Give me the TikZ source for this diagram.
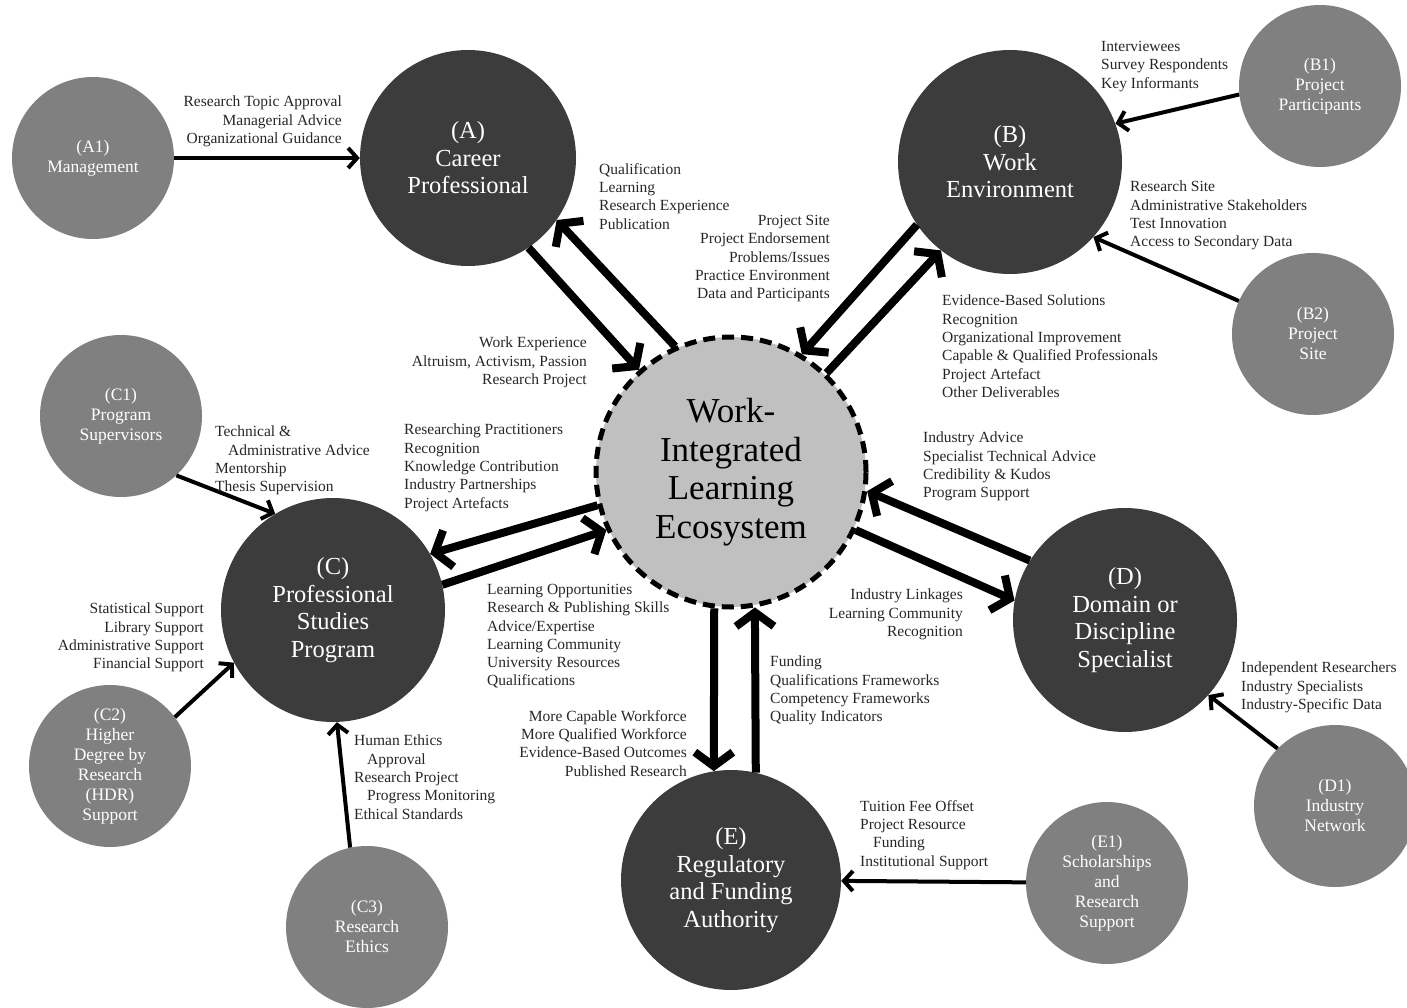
\documentclass[tikz,border=0pt]{standalone}
\usepackage{fontspec}
\setmainfont{Liberation Serif}
\usetikzlibrary{arrows.meta}
\definecolor{grisclair}{HTML}{C0C0C0}
\definecolor{grismoyen}{HTML}{808080}
\definecolor{grisfonce}{HTML}{3C3C3C}

\begin{document}
\begin{tikzpicture}[
       x=1pt, y=-1pt,
       satellite/.style={
         circle,
         fill=grismoyen,
         text=white,
         inner sep=0pt,
         minimum size=162pt,
         align=center,
         font=\fontsize{17.5}{20}\selectfont
       },
       pilier/.style={
         circle,
         fill=grisfonce,
         text=white,
         inner sep=0pt,
         align=center,
         font=\fontsize{24.5}{27.5}\selectfont
       },
       noyau/.style={
         circle,
         fill=grisclair,
         draw=black,
         line width=5pt,
         dash pattern=on 12pt off 7pt,
         inner sep=0pt,
         minimum size=270pt,
         align=center,
         font=\fontsize{35}{38.5}\selectfont
       },
       liste/.style={
         inner sep=0pt,
         text=black!85,
         font=\fontsize{15.5}{18.3}\selectfont
       },
       lien/.style={line width=4pt, -{Straight Barb[length=9pt,width=20pt]}},
       flux/.style={line width=8pt, -{Straight Barb[length=14pt,width=38pt]}}
     ]

       \useasboundingbox (0,0) rectangle (1407,1008);

       % centre
       \node (W) at (731,472) [noyau]{Work-\\Integrated\\Learning\\Ecosystem};

       % poles
       \node (A) at (468,158) [pilier, minimum size=216pt]{(A)\\Career\\Professional};
       \node (B) at (1010,162) [pilier, minimum size=224pt]{(B)\\Work\\Environment};
       \node (C) at (333,610) [pilier, minimum size=224pt]{(C)\\Professional\\Studies\\Program};
       \node (D) at (1125,620) [pilier, minimum size=224pt]{(D)\\Domain or\\Discipline\\Specialist};
       \node (E) at (731,880) [pilier, minimum size=220pt]{(E)\\Regulatory\\and Funding\\Authority};

       % satellites
       \node (A1) at (93,158) [satellite]{(A1)\\Management};
       \node (B1) at (1320,86) [satellite]{(B1)\\Project\\Participants};
       \node (B2) at (1313,334) [satellite]{(B2)\\Project\\Site};
       \node (C1) at (121,416) [satellite]{(C1)\\Program\\Supervisors};
       \node (C2) at (110,766) [satellite]{(C2)\\Higher\\Degree by\\Research\\(HDR)\\Support};
       \node (C3) at (367,927) [satellite]{(C3)\\Research\\Ethics};
       \node (D1) at (1335,806) [satellite]{(D1)\\Industry\\Network};
       \node (E1) at (1107,883) [satellite]{(E1)\\Scholarships\\and\\Research\\Support};

       \draw[flux] (A.-56) -- (W.132);
       \draw[flux] (W.114) -- (A.-35);
       \draw[flux] (B.-146) -- (W.59);
       \draw[flux] (W.46) -- (B.-128);
       \draw[flux] (W.-166) -- (C.30);
       \draw[flux] (C.13) -- (W.-155);
       \draw[flux] (D.148) -- (W.-8);
       \draw[flux] (W.-25) -- (D.170);
       \draw[flux] (W.-97) -- (E.99);
       \draw[flux] (E.77) -- (W.-80);

       \draw[lien] (A1) -- (A);
       \draw[lien] (B1.186) -- (B.20);
       \draw[lien] (B2.156) -- (B.-42);
       \draw[lien] (C1.-47) -- (C.121);
       \draw[lien] (C2.37) -- (C.-152);
       \draw[lien] (C3.102) -- (C.-88);
       \draw[lien] (D1.135) -- (D.-42);
       \draw[lien] (E1) -- (E);

       % textes
       \node (tA1) at (342,96) [liste, anchor=north east, align=right]{Research Topic Approval\\Managerial Advice\\Organizational Guidance};
       \node (tAin) at (599,163) [liste, anchor=north west, align=left]{Qualification\\Learning\\Research Experience\\Publication};
       \node (tWin) at (830,215) [liste, anchor=north east, align=right]{Project Site\\Project Endorsement\\Problems/Issues\\Practice Environment\\Data and Participants};
       \node (tB1) at (1101,41) [liste, anchor=north west, align=left]{Interviewees\\Survey Respondents\\Key Informants};
       \node (tB2) at (1130,181) [liste, anchor=north west, align=left]{Research Site\\Administrative Stakeholders\\Test Innovation\\Access to Secondary Data};
       \node (tBin) at (942,295) [liste, anchor=north west, align=left]{Evidence-Based Solutions\\Recognition\\Organizational Improvement\\Capable \& Qualified Professionals\\Project Artefact\\Other Deliverables};
       \node (tAout) at (587,337) [liste, anchor=north east, align=right]{Work Experience\\Altruism, Activism, Passion\\Research Project};
       \node (tCin) at (404,424) [liste, anchor=north west, align=left]{Researching Practitioners\\Recognition\\Knowledge Contribution\\Industry Partnerships\\Project Artefacts};
       \node (tC1) at (215,426) [liste, anchor=north west, align=left]{Technical \&\\\hspace*{13pt}Administrative Advice\\Mentorship\\Thesis Supervision};
       \node (tDout) at (923,432) [liste, anchor=north west, align=left]{Industry Advice\\Specialist Technical Advice\\Credibility \& Kudos\\Program Support};
       \node (tCout) at (487,584) [liste, anchor=north west, align=left]{Learning Opportunities\\Research \& Publishing Skills\\Advice/Expertise\\Learning Community\\University Resources\\Qualifications};
       \node (tDin) at (963,589) [liste, anchor=north east, align=right]{Industry Linkages\\Learning Community\\Recognition};
       \node (tC2) at (204,603) [liste, anchor=north east, align=right]{Statistical Support\\Library Support\\Administrative Support\\Financial Support};
       \node (tEout) at (770,656) [liste, anchor=north west, align=left]{Funding\\Qualifications Frameworks\\Competency Frameworks\\Quality Indicators};
       \node (tEin) at (687,710) [liste, anchor=north east, align=right]{More Capable Workforce\\More Qualified Workforce\\Evidence-Based Outcomes\\Published Research};
       \node (tC3) at (354,735) [liste, anchor=north west, align=left]{Human Ethics\\\hspace*{13pt}Approval\\Research Project\\\hspace*{13pt}Progress Monitoring\\Ethical Standards};
       \node (tD1) at (1241,662) [liste, anchor=north west, align=left]{Independent Researchers\\Industry Specialists\\Industry-Specific Data};
       \node (tE1) at (860,800) [liste, anchor=north west, align=left]{Tuition Fee Offset\\Project Resource\\\hspace*{13pt}Funding\\Institutional Support};

\end{tikzpicture}
\end{document}
